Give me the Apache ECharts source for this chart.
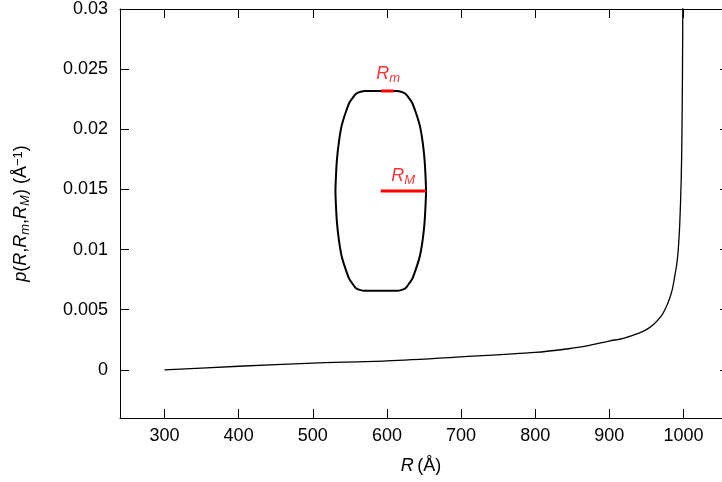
<!DOCTYPE html>
<html>
<head>
<meta charset="utf-8">
<script src="https://cdn.jsdelivr.net/npm/echarts@6/dist/echarts.min.js"></script>
<style>
  html, body { margin: 0; padding: 0; background: #fff; }
  #chart { width: 722px; height: 482px; }
</style>
</head>
<body>
<div id="chart"></div>
<script>
// probability curve p(R, Rm, RM)
const rValues = [300, 400, 500, 600, 700, 800, 850, 870, 900, 920, 940, 950, 960, 970, 975, 980, 985, 988, 991, 993, 995, 997, 998, 999, 999.6];
const pValues = [0, 0.0003, 0.00056, 0.00075, 0.00108, 0.00145, 0.0018, 0.0020, 0.0024, 0.00265, 0.00306, 0.00335, 0.0038, 0.00447, 0.0050, 0.0057, 0.0067, 0.0077, 0.0088, 0.0100, 0.0121, 0.0159, 0.0198, 0.028, 0.044];

// outline of the sketched particle
const shapeR = [570.1, 613.3, 620.0, 625.4, 629.5, 634.2, 638.4, 642.3, 645.1, 648.4, 650.8, 652.1, 652.8,
                652.1, 650.8, 648.4, 645.1, 642.3, 638.4, 634.2, 629.5, 625.4, 620.0, 613.3,
                570.1, 563.4, 558.0, 553.9, 549.2, 545.0, 541.1, 538.3, 535.1, 532.6, 531.3, 530.6,
                531.3, 532.6, 535.1, 538.3, 541.1, 545.0, 549.2, 553.9, 558.0, 563.4, 570.1];
const shapeP = [0.023178, 0.023178, 0.023103, 0.022937, 0.022613, 0.022189, 0.021499, 0.020776, 0.020120, 0.018873, 0.017485, 0.016098, 0.014876,
                0.013654, 0.012267, 0.010879, 0.009632, 0.008976, 0.008253, 0.007563, 0.007139, 0.006815, 0.006649, 0.006574,
                0.006574, 0.006649, 0.006815, 0.007139, 0.007563, 0.008253, 0.008976, 0.009632, 0.010879, 0.012267, 0.013654, 0.014876,
                0.016098, 0.017485, 0.018873, 0.020120, 0.020776, 0.021499, 0.022189, 0.022613, 0.022937, 0.023103, 0.023178];

// red radius markers
const rmR = [592.3, 609.5];
const rmP = [0.023178, 0.023178];
const rMR = [591.7, 652.8];
const rMP = [0.014876, 0.014876];

const xTicks = [300, 400, 500, 600, 700, 800, 900, 1000];
const yTicks = [0, 0.005, 0.01, 0.015, 0.02, 0.025, 0.03];

const zip = (a, b) => a.map((v, i) => [v, b[i]]);

const FONT = 'Liberation Sans';
const black = '#000';
const red = '#ff0000';

function makeRich(color) {
  return {
    i: { fontFamily: FONT, fontSize: 18, fontStyle: 'italic', color: color, lineHeight: 20, verticalAlign: 'top' },
    n: { fontFamily: FONT, fontSize: 18, color: color, lineHeight: 20, verticalAlign: 'top' },
    s: { fontFamily: FONT, fontSize: 13, fontStyle: 'italic', color: color, lineHeight: 14, verticalAlign: 'bottom', padding: [10, 0, 0, 0] },
    sup: { fontFamily: FONT, fontSize: 13, color: color, lineHeight: 14, verticalAlign: 'top' }
  };
}

let myChart = echarts.init(document.getElementById('chart'), null, { renderer: 'canvas' });

myChart.setOption({
  animation: false,
  textStyle: { fontFamily: FONT },
  grid: { left: 120, top: 9, right: 0, bottom: 64, show: false },
  xAxis: [
    {
      type: 'value', min: 240, max: 1052, position: 'bottom',
      axisLine: { show: true, onZero: false, lineStyle: { color: black, width: 1 } },
      axisTick: { show: true, inside: true, length: 9, customValues: xTicks, lineStyle: { color: black } },
      axisLabel: { customValues: xTicks, fontSize: 18, color: black, margin: 9, fontFamily: FONT,
                   formatter: v => String(v) },
      splitLine: { show: false },
      name: '{i|R} {n|(Å)}',
      nameLocation: 'middle', nameGap: 39,
      nameTextStyle: { color: black, rich: makeRich(black) }
    },
    {
      type: 'value', min: 240, max: 1052, position: 'top',
      axisLine: { show: true, onZero: false, lineStyle: { color: black, width: 1 } },
      axisTick: { show: true, inside: true, length: 9, customValues: xTicks, lineStyle: { color: black } },
      axisLabel: { show: false },
      splitLine: { show: false }
    }
  ],
  yAxis: [
    {
      type: 'value', min: -0.004, max: 0.03, position: 'left',
      axisLine: { show: true, onZero: false, lineStyle: { color: black, width: 1 } },
      axisTick: { show: true, inside: true, length: 9, customValues: yTicks, lineStyle: { color: black } },
      axisLabel: { customValues: yTicks, fontSize: 18, color: black, margin: 12, fontFamily: FONT,
                   formatter: v => String(+v.toFixed(3)) },
      splitLine: { show: false },
      name: '{i|p}{n|(}{i|R}{n|,}{i|R}{s|m}{n|,}{i|R}{s|M}{n|) (Å}{sup|−1}{n|)}',
      nameLocation: 'middle', nameRotate: 90, nameGap: 88,
      nameTextStyle: { color: black, rich: makeRich(black) }
    },
    {
      // frame edge falls just outside the picture, only tick stubs show
      type: 'value', min: -0.004, max: 0.03, position: 'right',
      axisLine: { show: false },
      axisTick: { show: true, inside: true, length: 2, customValues: yTicks, lineStyle: { color: black } },
      axisLabel: { show: false },
      splitLine: { show: false }
    }
  ],
  series: [
    {
      name: 'p', type: 'line', data: zip(rValues, pValues),
      showSymbol: false, smooth: 0.3,
      lineStyle: { color: black, width: 1.3 }
    },
    {
      name: 'shape', type: 'line', data: zip(shapeR, shapeP),
      showSymbol: false, smooth: 0.3,
      lineStyle: { color: black, width: 2 }
    },
    {
      name: 'Rm', type: 'line', data: zip(rmR, rmP),
      showSymbol: false, lineStyle: { color: red, width: 3 }
    },
    {
      name: 'RM', type: 'line', data: zip(rMR, rMP),
      showSymbol: false, lineStyle: { color: red, width: 3 }
    },
    {
      name: 'labels', type: 'scatter', symbolSize: 0, silent: true,
      data: [
        { value: [585.5, 0.02452], label: { formatter: '{i|R}{s|m}' } },
        { value: [605.8, 0.01606], label: { formatter: '{i|R}{s|M}' } }
      ],
      label: { show: true, position: 'right', distance: 0, color: red, rich: makeRich(red) }
    }
  ]
});
</script>
</body>
</html>
